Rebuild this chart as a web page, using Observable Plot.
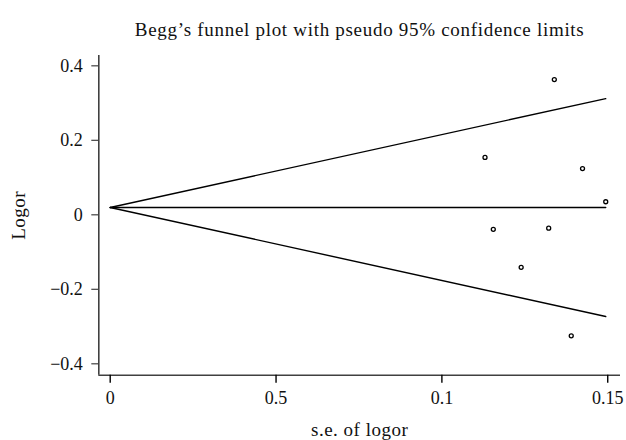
<!DOCTYPE html>
<html>
<head>
<meta charset="utf-8">
<script src="https://cdn.jsdelivr.net/npm/d3@7"></script>
<script src="https://cdn.jsdelivr.net/npm/@observablehq/plot@0.6"></script>
<style>
  body { margin: 0; background: #fff; }
  #chart svg { display: block; }
  .wide text { letter-spacing: 0.7px; }
  .wide2 text { letter-spacing: 0.5px; }
</style>
</head>
<body>
<div id="chart"></div>
<script>
// Study points (standard error of log OR, log OR)
const seValues = [0.1339, 0.1130, 0.1424, 0.1494, 0.1155, 0.1322, 0.1239, 0.1390];
const logorValues = [0.363, 0.154, 0.124, 0.035, -0.039, -0.036, -0.141, -0.325];

// Funnel: pooled estimate and pseudo 95% limits at se = 0 and se = max
const funnelSe = [0, 0.1494];
const pooledLogor = [0.0196, 0.0196];
const upperLimit = [0.0196, 0.312];
const lowerLimit = [0.0196, -0.273];

// Axis ticks and labels (x labels as printed in the original)
const xTicks = [0, 0.05, 0.1, 0.15];
const xTickLabels = ["0", "0.5", "0.1", "0.15"];
const yTicks = [-0.4, -0.2, 0, 0.2, 0.4];
const yTickLabels = ["\u22120.4", "\u22120.2", "0", "0.2", "0.4"];

const titleText = "Begg\u2019s funnel plot with pseudo 95% confidence limits";
const xLabel = "s.e. of logor";
const yLabel = "Logor";

const points = seValues.map((s, i) => ({se: s, logor: logorValues[i]}));
const lineOf = (ys) => funnelSe.map((s, i) => ({se: s, v: ys[i]}));

const xDomain = [-0.00344, 0.15385];
const yDomain = [-0.4306, 0.4277];
const axisColor = "#404040";
const font = "'Liberation Serif', 'Times New Roman', serif";

const chart = Plot.plot({
  width: 626,
  height: 440,
  marginTop: 55,
  marginBottom: 65.3,
  marginLeft: 98.3,
  marginRight: 6,
  style: {fontFamily: font, fontSize: "18px", color: "#111", background: "#fff"},
  x: {domain: xDomain},
  y: {domain: yDomain},
  marks: [
    Plot.ruleX([xDomain[0]], {y1: yDomain[0], y2: yDomain[1], stroke: axisColor, strokeWidth: 1.6}),
    Plot.ruleY([yDomain[0]], {x1: xDomain[0], x2: xDomain[1], stroke: axisColor, strokeWidth: 1.6}),
    Plot.axisY({ticks: yTicks, tickFormat: (d) => yTickLabels[yTicks.indexOf(d)], tickSize: 7, tickPadding: 9, label: null, stroke: axisColor, strokeWidth: 1.2, fontSize: 18}),
    Plot.axisX({ticks: xTicks, tickFormat: (d) => xTickLabels[xTicks.indexOf(d)], tickSize: 8, tickPadding: 8, label: null, stroke: "#000", strokeWidth: 1.4, fontSize: 18}),
    Plot.line(lineOf(upperLimit), {x: "se", y: "v", stroke: "#000", strokeWidth: 1.4}),
    Plot.line(lineOf(lowerLimit), {x: "se", y: "v", stroke: "#000", strokeWidth: 1.4}),
    Plot.line(lineOf(pooledLogor), {x: "se", y: "v", stroke: "#000", strokeWidth: 1.4}),
    Plot.dot(points, {x: "se", y: "logor", r: 2, stroke: "#000", strokeWidth: 1.3, fill: "#fff"}),
    Plot.text([titleText], {text: d => d, frameAnchor: "top", dy: -20, lineAnchor: "bottom", fontSize: 19, fill: "#111", className: "wide"}),
    Plot.text([xLabel], {text: d => d, frameAnchor: "bottom", dy: 61, lineAnchor: "bottom", fontSize: 19, fill: "#111", className: "wide2"}),
    Plot.text([yLabel], {text: d => d, frameAnchor: "left", dx: -80, rotate: -90, textAnchor: "middle", lineAnchor: "middle", fontSize: 19, fill: "#111", className: "wide2"})
  ]
});
document.getElementById("chart").appendChild(chart);
</script>
</body>
</html>
